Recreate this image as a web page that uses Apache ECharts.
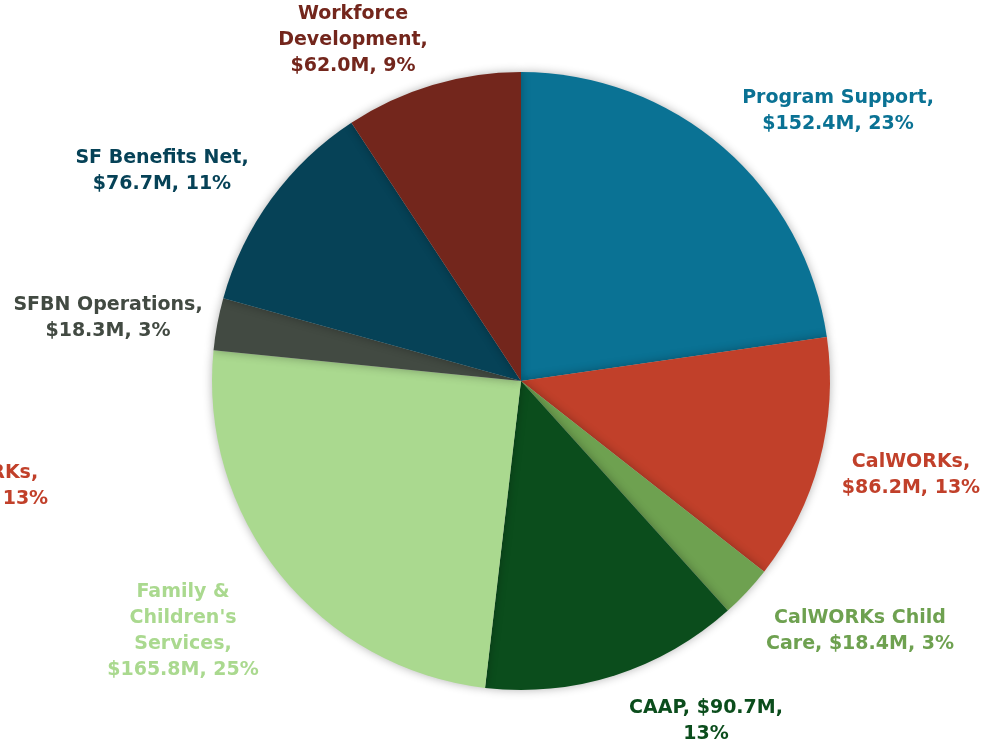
<!DOCTYPE html>
<html style="height: 100%">
   <head>
       <meta charset="utf-8">
   </head>
   <body style="height: 100%; margin: 0; background: #fff">
       <div id="container" style="height: 100%"></div>
       <script type="text/javascript" src="https://cdn.jsdelivr.net/npm/echarts@6/dist/echarts.min.js"></script>
       <script type="text/javascript">
// budget by program, clockwise from 12 o'clock
var names = ['Program Support', 'CalWORKs', 'CalWORKs Child Care', 'CAAP',
    'Family & Children\'s Services', 'SFBN Operations', 'SF Benefits Net', 'Workforce Development'];
var amounts = [152.4, 86.2, 18.4, 90.7, 165.8, 18.3, 76.7, 62.0];
var shares = [23, 13, 3, 13, 25, 3, 11, 9];
var labelText = [
    'Program Support,\n$152.4M, 23%',
    'CalWORKs,\n$86.2M, 13%',
    'CalWORKs Child\nCare, $18.4M, 3%',
    'CAAP, $90.7M,\n13%',
    'Family &\nChildren\'s\nServices,\n$165.8M, 25%',
    'SFBN Operations,\n$18.3M, 3%',
    'SF Benefits Net,\n$76.7M, 11%',
    'Workforce\nDevelopment,\n$62.0M, 9%'
];
var colors = ['#0a7294', '#c1402a', '#6ea150', '#0b4d1c', '#aad98f', '#424a42', '#064257', '#73261c'];

var dom = document.getElementById("container");
var myChart = echarts.init(dom);

var FONT = 'DejaVu Sans';
// where each label sits (text center)
var labelAt = [[838, 111], [911, 475], [860, 631], [706, 721], [183, 631], [108, 318], [162, 171], [353, 40]];

var option = {
    animation: false,
    graphic: [{
        // stray label partly outside the picture on the left
        type: 'text',
        x: -21,
        y: 486,
        style: {
            text: 'CalWORKs,\n$86.2M, 13%',
            fill: colors[1],
            fontFamily: FONT,
            fontWeight: 'bold',
            fontSize: 19,
            lineHeight: 26,
            align: 'center',
            verticalAlign: 'middle'
        }
    }],
    series: [{
        type: 'pie',
        center: [521, 381],
        radius: 309,
        startAngle: 90,
        clockwise: true,
        avoidLabelOverlap: false,
        itemStyle: {
            shadowBlur: 10,
            shadowColor: 'rgba(0,0,0,0.3)'
        },
        label: {
            position: 'outside',
            fontFamily: FONT,
            fontWeight: 'bold',
            fontSize: 19,
            lineHeight: 26,
            formatter: function (p) { return labelText[p.dataIndex]; }
        },
        labelLine: { show: false },
        labelLayout: function (p) {
            var at = labelAt[p.dataIndex];
            return { x: at[0], y: at[1], align: 'center', verticalAlign: 'middle' };
        },
        data: names.map(function (n, i) {
            return {
                name: n,
                value: amounts[i],
                itemStyle: { color: colors[i] },
                label: { color: colors[i] }
            };
        })
    }]
};
myChart.setOption(option);
       </script>
   </body>
</html>
